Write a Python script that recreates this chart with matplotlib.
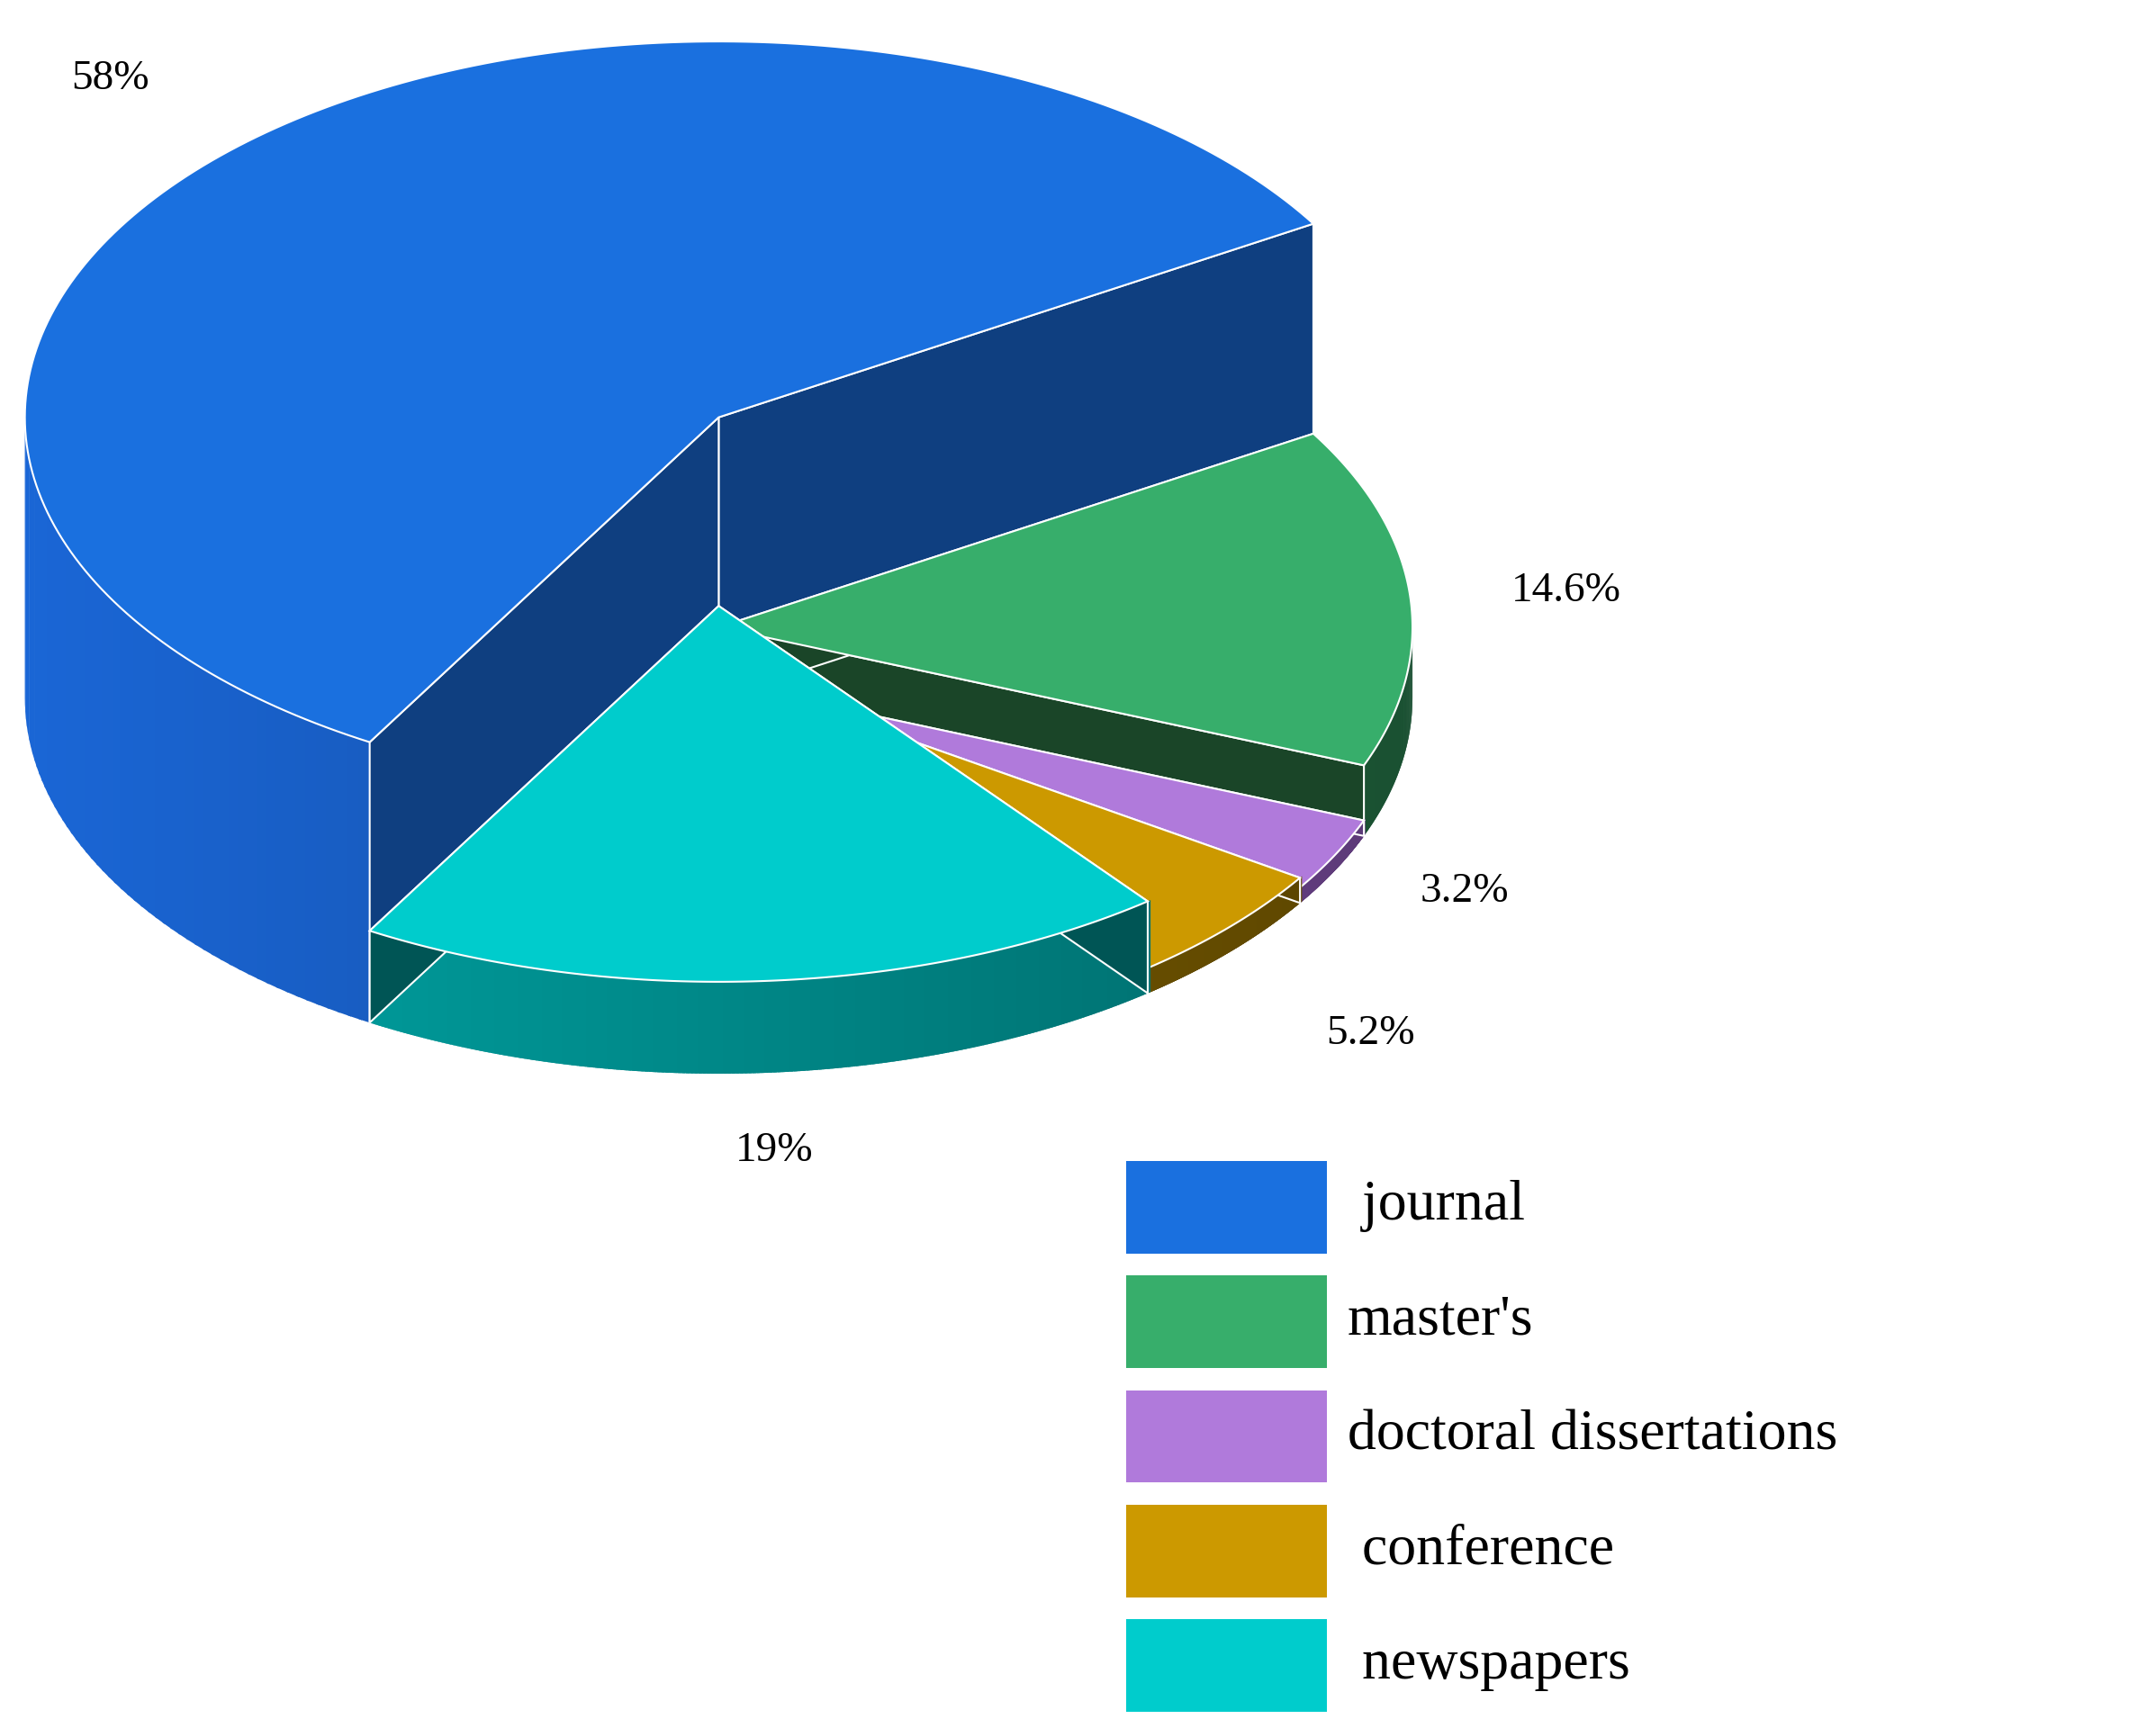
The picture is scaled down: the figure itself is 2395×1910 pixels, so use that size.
import numpy as np
import matplotlib
matplotlib.use("Agg")
import matplotlib.pyplot as plt
from matplotlib.patches import Polygon, Rectangle
from matplotlib.colors import to_rgb

categories = ["journal", "master's", "doctoral dissertations", "conference", "newspapers"]
values = [58, 14.6, 3.2, 5.2, 19]
labels = ["58%", "14.6%", "3.2%", "5.2%", "19%"]
legend_text = [" journal", "master's", "doctoral dissertations", " conference", " newspapers"]
top_colors = ["#1A70DF", "#37AE6B", "#B07ADB", "#CC9900", "#00CCCC"]
side_colors = ["#1656B4", "#226B42", "#7A4C9E", "#7A5C00", "#008C8C"]
wall_colors = ["#0F3F80", "#1A4528", "#5B3A78", "#5C4500", "#005555"]
label_pos = [(80, 57), (1133, 428), (1060, 645), (992, 748), (560, 833)]

fig = plt.figure(figsize=(23.95, 19.1), dpi=100)
ax = fig.add_axes([0, 0, 1, 1])
ax.set_xlim(0, 1560); ax.set_ylim(1244, 0); ax.axis("off")

cx, cyb, rx, ry, k = 520, 505, 502, 272, 3.5
start = 31.0  # degrees
# angle ranges: journal goes ccw from start; others clockwise from start
ranges = []
a = start
jspan = values[0] / 100 * 360
ranges.append((start, start + jspan))
a = start
for v in values[1:]:
    ranges.append((a - v / 100 * 360, a))
    a -= v / 100 * 360

def pt(t, h):
    r = np.radians(t)
    return (cx + rx * np.cos(r), cyb - h - ry * np.sin(r))

def shade(c, f):
    c = np.array(to_rgb(c)); return tuple(np.clip(c * f, 0, 1))

for i, (v, (t0, t1)) in enumerate(zip(values, ranges)):
    h = k * v
    # outer side, front-facing part
    ts = np.linspace(t0, t1, 200)
    for j in range(len(ts) - 1):
        tm = (ts[j] + ts[j + 1]) / 2
        if np.sin(np.radians(tm)) < 0:
            f = 0.95 - 0.35 * (np.cos(np.radians(tm)) + 1) / 2
            p = [pt(ts[j], h), pt(ts[j + 1] + 0.3, h), pt(ts[j + 1] + 0.3, 0), pt(ts[j], 0)]
            ax.add_patch(Polygon(p, closed=True, fc=shade(side_colors[i], f / 0.8), ec="none"))
    # side edge line
    ax.plot(*zip(*[pt(t, h) for t in ts if np.sin(np.radians(t)) < 0.0] or [(0, 0)]), lw=0) 
    # radial walls
    for t in (t0, t1):
        p = [(cx, cyb - h), pt(t, h), pt(t, 0), (cx, cyb)]
        ax.add_patch(Polygon(p, closed=True, fc=wall_colors[i], ec="white", lw=1.5))
    # top
    p = [(cx, cyb - h)] + [pt(t, h) for t in ts]
    ax.add_patch(Polygon(p, closed=True, fc=top_colors[i], ec="white", lw=1.5))

for (x, y), s in zip(label_pos, labels):
    ax.text(x, y, s, fontsize=34, family="Liberation Serif", ha="center", va="center")

for j, (c, s) in enumerate(zip(top_colors, legend_text)):
    y = 840 + j * 83
    ax.add_patch(Rectangle((815, y), 145, 67, fc=c, ec="none"))
    ax.text(975, y + 33, s, fontsize=46, family="Liberation Serif", ha="left", va="center")

fig.savefig("out.png", dpi=100)
